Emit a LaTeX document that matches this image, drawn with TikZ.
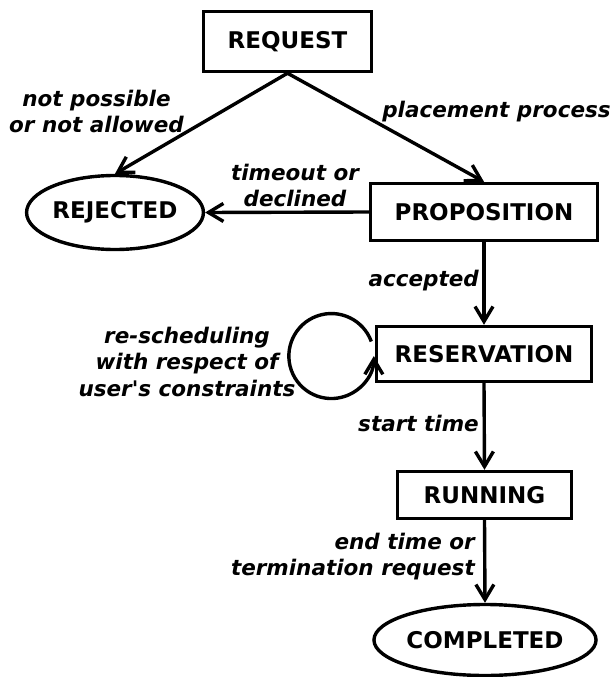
\documentclass[tikz,border=0pt]{standalone}
\usepackage{fontspec}
\setmainfont{DejaVu Sans}[Ligatures=TeXOff]
\usetikzlibrary{shapes.geometric,arrows.meta}
\begin{document}
\begin{tikzpicture}[x=1pt,y=-1pt,
  state/.style={draw, line width=3.4pt, font=\fontsize{23}{27}\selectfont\bfseries, inner sep=0pt},
  box/.style={state, rectangle},
  oval/.style={state, ellipse},
  lbl/.style={font=\fontsize{21.5}{26.5}\selectfont\bfseries\itshape, inner sep=0pt, align=center},
  arr/.style={line width=3.4pt, -{Straight Barb[length=15pt,width=18pt]}}]
\useasboundingbox (0,0) rectangle (613,677);
% states
\node[box, minimum width=168pt, minimum height=60pt] (req) at (287.5,41.5) {REQUEST};
\node[oval, minimum width=175pt, minimum height=74pt] (rej) at (115,212.5) {REJECTED};
\node[box, minimum width=227pt, minimum height=57pt] (prop) at (484,212) {PROPOSITION};
\node[box, minimum width=215pt, minimum height=55pt] (res) at (484,354) {RESERVATION};
\node[box, minimum width=174pt, minimum height=47pt] (run) at (484.5,495) {RUNNING};
\node[oval, minimum width=213pt, minimum height=71pt] (comp) at (485,640) {COMPLETED};
% labels
\node[lbl] (l1) at (96.5,111.5) {not possible\\or not allowed};
\node[lbl] (l2) at (496.5,112) {placement process};
\node[lbl] (l3) at (295,185.5) {timeout or\\declined};
\node[lbl, anchor=east] (l4) at (479,281) {accepted};
\node[lbl] (l5) at (187,361.5) {re-scheduling\\with respect of\\user's constraints};
\node[lbl, anchor=east] (l6) at (479,423) {start time};
\node[lbl, anchor=east, align=right] (l7) at (475,556.5) {end time or\\termination request};
% connectors
\draw[arr] (req.south) -- (rej.north);
\draw[arr] (req.south) -- (prop.north);
\draw[arr] (prop.west) -- (rej.east);
\draw[arr] (prop.south) -- (res.north);
\draw[arr] (res.west) ++(-3.5,-12.5) arc[start angle=20, end angle=360, radius=42.5pt];
\draw[arr] (res.south) -- (run.north);
\draw[arr] (run.south) -- (comp.north);
\end{tikzpicture}
\end{document}
